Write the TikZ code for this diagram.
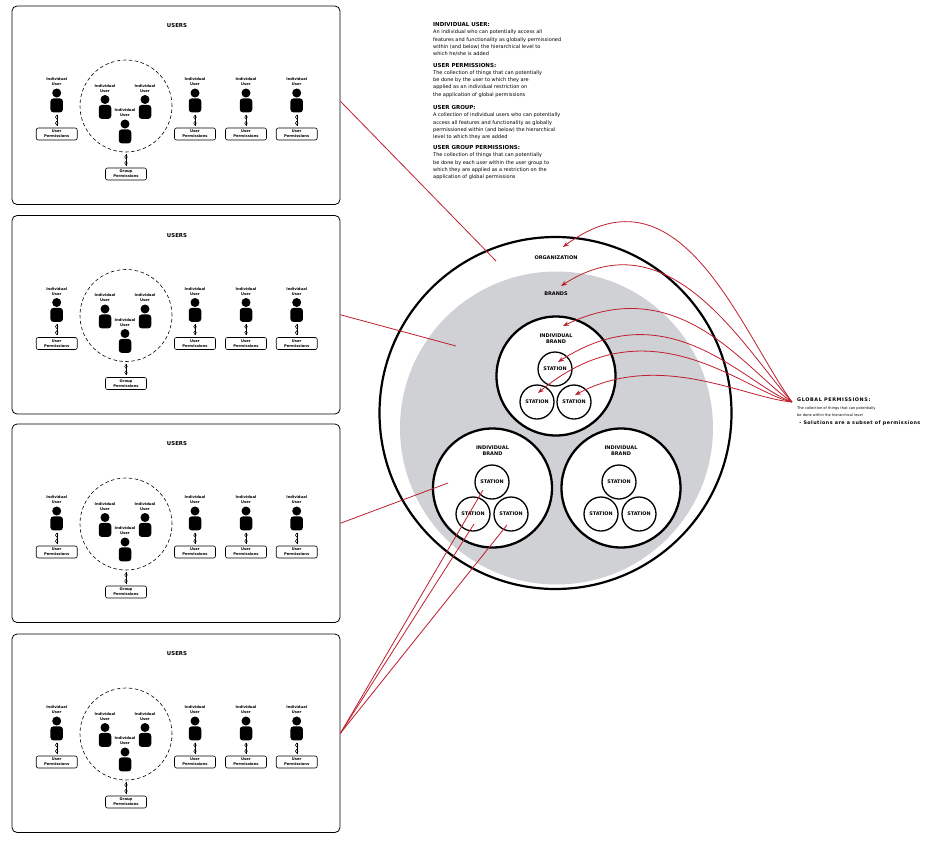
\documentclass[tikz,border=0pt]{standalone}
\usepackage{fontspec}
\setmainfont{DejaVu Sans}
\usetikzlibrary{positioning,arrows.meta,decorations.markings}
\definecolor{linkred}{RGB}{190,30,45}
\definecolor{brandgray}{RGB}{208,209,212}
\tikzset{
  panel/.style={draw, line width=0.8pt, rounded corners=5pt, minimum width=328pt, minimum height=198.5pt, inner sep=0pt},
  paneltitle/.style={font=\fontsize{5.4}{6.6}\selectfont\bfseries, inner sep=0pt},
  tinylabel/.style={font=\fontsize{3.7}{4.8}\selectfont\bfseries, align=center, inner sep=0pt},
  permbox/.style={draw, line width=0.6pt, rounded corners=2pt, minimum width=41pt, minimum height=12pt, inner sep=0pt, align=center, font=\fontsize{3.7}{4.8}\selectfont\bfseries},
  userhead/.style={circle, fill=black, minimum size=9pt, inner sep=0pt},
  userbody/.style={fill=black, rounded corners=3pt, minimum width=12.5pt, minimum height=14pt, inner sep=0pt},
  groupring/.style={draw, dashed, dash pattern=on 3.5pt off 2.5pt, line width=0.6pt, circle, minimum size=92pt, inner sep=0pt},
  chain/.style={line width=0.4pt, shorten <=2pt, shorten >=2pt, postaction={decorate},
    decoration={markings,
      mark=at position 0.3 with {\draw[line width=0.5pt] (0,0) ellipse (1.9pt and 1.3pt);},
      mark=at position 0.7 with {\draw[line width=0.5pt] (0,0) ellipse (1.9pt and 1.3pt);}}},
  deftext/.style={anchor=north west, align=left, inner sep=0pt, font=\fontsize{5}{7.2}\selectfont},
  orgring/.style={draw, circle, line width=2.2pt, minimum size=352pt, inner sep=0pt},
  brand/.style={draw, circle, line width=2.3pt, fill=white, minimum size=119pt, inner sep=0pt},
  station/.style={draw, circle, line width=1.3pt, fill=white, minimum size=34pt, inner sep=0pt, font=\fontsize{4.9}{6}\selectfont\bfseries},
  circlelabel/.style={font=\fontsize{5}{6.4}\selectfont\bfseries, align=center, inner sep=0pt},
  redline/.style={draw=linkred, line width=0.8pt},
  redarrow/.style={draw=linkred, line width=0.8pt, -{Stealth[length=6pt,width=4.5pt]}}
}
% one user: head, body and label
\newcommand{\personicon}[3]{%
  \node[userhead] (#1-h) at (#2,#3) {};
  \node[userbody, below=0.5pt of #1-h] (#1-b) {};
  \node[tinylabel, above=2.5pt of #1-h] (#1-l) {Individual\\User};
}

\begin{document}
\begin{tikzpicture}[x=1pt,y=-1pt]
  \useasboundingbox (0,0) rectangle (946,844);

  % user panels
  \foreach \oy [count=\k] in {0,209.5,418,628} {
    \begin{scope}[shift={(0,\oy)}]
      \node[panel] (p\k) at (176,105.25) {};
      \node[paneltitle] (t\k) at (177,26) {USERS};
      % user group
      \node[groupring] (g\k) at (126,106) {};
      \personicon{ga\k}{105}{99.5}
      \personicon{gb\k}{145}{99.5}
      \personicon{gc\k}{125}{124}
      \node[permbox] (gp\k) at (126,174) {Group\\Permissions};
      \draw[chain] (g\k.south) -- (gp\k.north);
      % single users
      \foreach \ux [count=\j] in {56.7,195,246,296.7} {
        \personicon{s\k\j}{\ux}{93}
        \node[permbox] (sp\k\j) at (\ux,134) {User\\Permissions};
        \draw[chain] (s\k\j-b.south) -- (sp\k\j.north);
      }
    \end{scope}
  }

  % definitions
  \node[deftext] (d1) at (433,22.5) {{\fontsize{5.5}{7.2}\selectfont\bfseries INDIVIDUAL USER:}\\
    An individual who can potentially access all\\
    features and functionality as globally permissioned\\
    within (and below) the hierarchical level to\\
    which he/she is added};
  \node[deftext] (d2) at (433,63) {{\fontsize{5.5}{7.2}\selectfont\bfseries USER PERMISSIONS:}\\
    The collection of things that can potentially\\
    be done by the user to which they are\\
    applied as an individual restriction on\\
    the application of global permissions};
  \node[deftext] (d3) at (433,105.5) {{\fontsize{5.5}{7.2}\selectfont\bfseries USER GROUP:}\\
    A collection of individual users who can potentially\\
    access all features and functionality as globally\\
    permissioned within (and below) the hierarchical\\
    level to which they are added};
  \node[deftext] (d4) at (433,145.5) {{\fontsize{5.5}{7.2}\selectfont\bfseries USER GROUP PERMISSIONS:}\\
    The collection of things that can potentially\\
    be done by each user within the user group to\\
    which they are applied as a restriction on the\\
    application of global permissions};

  % organization
  \node[circle, fill=brandgray, minimum size=313pt, inner sep=0pt] (brands) at (556.5,428) {};
  \node[orgring] (org) at (555.5,413) {};
  \node[circlelabel] (orgl) at (556,258) {ORGANIZATION};
  \node[circlelabel] (brl) at (556,294) {BRANDS};

  % brands and stations
  \node[brand] (b1) at (556,376) {};
  \node[brand] (b2) at (492.5,488) {};
  \node[brand] (b3) at (621,488) {};
  \node[circlelabel] (b1l) at (556,338.5) {INDIVIDUAL\\BRAND};
  \node[circlelabel] (b2l) at (492.5,450.5) {INDIVIDUAL\\BRAND};
  \node[circlelabel] (b3l) at (621,450.5) {INDIVIDUAL\\BRAND};
  \node[station] (s1a) at (555,369) {STATION};
  \node[station] (s1b) at (537,402) {STATION};
  \node[station] (s1c) at (574,402) {STATION};
  \node[station] (s2a) at (492,482) {STATION};
  \node[station] (s2b) at (473,514) {STATION};
  \node[station] (s2c) at (511,514) {STATION};
  \node[station] (s3a) at (619,482) {STATION};
  \node[station] (s3b) at (601,514) {STATION};
  \node[station] (s3c) at (639,514) {STATION};

  % global permissions
  \node[anchor=north west, align=left, inner sep=0pt, font=\fontsize{3.6}{7.4}\selectfont] (gtext) at (797,398)
    {{\fontsize{4.9}{7.4}\selectfont\bfseries\addfontfeature{LetterSpace=12}GLOBAL PERMISSIONS:}\\
     The collection of things that can potentially\\
     be done within the hierarchical level\\
     {\fontsize{4.8}{7.4}\selectfont\bfseries\addfontfeature{LetterSpace=10}\ - Solutions are a subset of permissions}};
  \coordinate (glob) at (792,402);
  \coordinate (a1) at (563,247);
  \coordinate (a2) at (561,286);
  \coordinate (a3) at (563,326);
  \coordinate (a4) at (558,362);
  \coordinate (a5) at (538,393);
  \coordinate (a6) at (575,395);
  \draw[redarrow] (glob) .. controls (740,330) and (680,160) .. (a1);
  \draw[redarrow] (glob) .. controls (745,350) and (670,215) .. (a2);
  \draw[redarrow] (glob) .. controls (745,370) and (680,270) .. (a3);
  \draw[redarrow] (glob) .. controls (745,385) and (670,290) .. (a4);
  \draw[redarrow] (glob) .. controls (745,392) and (650,300) .. (a5);
  \draw[redarrow] (glob) .. controls (745,398) and (660,350) .. (a6);

  % panels to levels
  \coordinate (e1) at (496,261);
  \coordinate (e2) at (456,346);
  \coordinate (e3) at (448,483);
  \coordinate (e4a) at (483,490);
  \coordinate (e4b) at (474,524);
  \coordinate (e4c) at (507,525);
  \draw[redline] ([yshift=4pt]p1.east) -- (e1);
  \draw[redline] (p2.east) -- (e2);
  \draw[redline] (p3.east) -- (e3);
  \draw[redline] (p4.east) -- (e4a);
  \draw[redline] (p4.east) -- (e4b);
  \draw[redline] (p4.east) -- (e4c);
\end{tikzpicture}
\end{document}
